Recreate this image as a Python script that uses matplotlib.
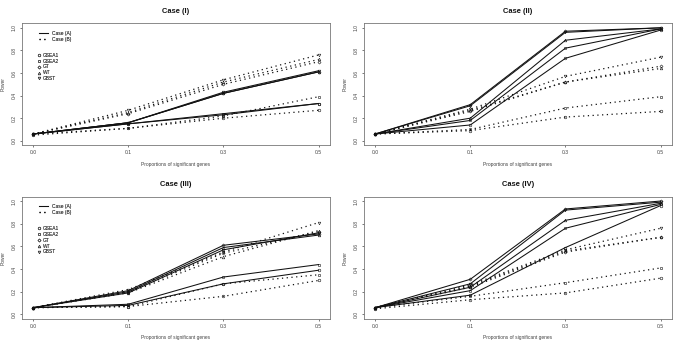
import matplotlib
matplotlib.use('Agg')
import matplotlib.pyplot as plt
from matplotlib.lines import Line2D

plt.rcParams['font.family'] = ['Liberation Sans', 'DejaVu Sans']

props = ['0.0', '0.1', '0.3', '0.5']
methods = ['GSEA1', 'GSEA2', 'GT', 'WT', 'GBST']
titles = ['Case (I)', 'Case (II)', 'Case (III)', 'Case (IV)']

# rows follow methods: GSEA1, GSEA2, GT, WT, GBST
case1_a = [[0.06, 0.15, 0.23, 0.33],
           [0.06, 0.15, 0.24, 0.33],
           [0.06, 0.16, 0.42, 0.61],
           [0.06, 0.16, 0.42, 0.61],
           [0.06, 0.16, 0.43, 0.62]]
case1_b = [[0.05, 0.11, 0.20, 0.27],
           [0.06, 0.11, 0.22, 0.39],
           [0.06, 0.24, 0.50, 0.70],
           [0.06, 0.25, 0.52, 0.72],
           [0.06, 0.27, 0.54, 0.76]]

case2_a = [[0.06, 0.14, 0.73, 0.98],
           [0.06, 0.18, 0.82, 0.99],
           [0.06, 0.32, 0.97, 1.00],
           [0.06, 0.20, 0.89, 0.99],
           [0.06, 0.31, 0.96, 1.00]]
case2_b = [[0.06, 0.09, 0.21, 0.26],
           [0.06, 0.10, 0.29, 0.39],
           [0.06, 0.26, 0.52, 0.66],
           [0.06, 0.27, 0.52, 0.64],
           [0.06, 0.28, 0.57, 0.74]]

case3_a = [[0.06, 0.08, 0.27, 0.39],
           [0.06, 0.09, 0.33, 0.44],
           [0.06, 0.21, 0.61, 0.71],
           [0.06, 0.20, 0.59, 0.70],
           [0.06, 0.19, 0.57, 0.72]]
case3_b = [[0.06, 0.07, 0.16, 0.30],
           [0.06, 0.07, 0.27, 0.35],
           [0.06, 0.20, 0.54, 0.73],
           [0.06, 0.19, 0.51, 0.74],
           [0.06, 0.22, 0.55, 0.81]]

case4_a = [[0.06, 0.17, 0.59, 0.96],
           [0.06, 0.21, 0.76, 0.97],
           [0.06, 0.31, 0.93, 1.00],
           [0.06, 0.24, 0.83, 0.98],
           [0.06, 0.27, 0.92, 0.99]]
case4_b = [[0.05, 0.13, 0.19, 0.32],
           [0.06, 0.16, 0.28, 0.41],
           [0.06, 0.24, 0.55, 0.68],
           [0.06, 0.25, 0.56, 0.68],
           [0.06, 0.26, 0.57, 0.76]]

data_a = [case1_a, case2_a, case3_a, case4_a]
data_b = [case1_b, case2_b, case3_b, case4_b]

markers = ['o', 's', 'D', '^', 'v']
msizes = [1.9, 1.7, 1.6, 1.9, 1.9]
dotted = (0, (1, 2.8))

W, H = 685, 347
fig = plt.figure(figsize=(W / 100, H / 100), dpi=100)

# panel boxes in pixels: left, top, right, bottom
boxes = [(21.7, 23.3, 330, 145.3), (363.7, 23.3, 672, 145.3),
         (21.7, 196.5, 330, 319), (363.7, 196.5, 672, 319)]

x = list(range(len(props)))
for i, (l, t, r, b) in enumerate(boxes):
    ax = fig.add_axes([l / W, 1 - b / H, (r - l) / W, (b - t) / H])
    for j in range(len(methods)):
        ax.plot(x, data_a[i][j], color='#111111', lw=0.75, marker=markers[j],
                ms=msizes[j], mfc='none', mew=0.4)
        ax.plot(x, data_b[i][j], color='#111111', lw=0.9, ls=dotted,
                marker=markers[j], ms=msizes[j], mfc='none', mew=0.4)
    ax.set_xlim(-0.12, 3.12)
    ax.set_ylim(-0.04, 1.04)
    ax.set_xticks(x)
    ax.set_xticklabels(props)
    ax.set_yticks([0.0, 0.2, 0.4, 0.6, 0.8, 1.0])
    ax.set_yticklabels(['0.0', '0.2', '0.4', '0.6', '0.8', '1.0'],
                       rotation=90, va='center')
    ax.tick_params(labelsize=3.6, length=1.6, width=0.5, pad=2.0,
                   colors='#444444')
    for s in ax.spines.values():
        s.set_linewidth(0.6)
        s.set_color('#777777')
    h = b - t
    wdt = r - l
    ax.text(0.5, 1 + 11.5 / h, titles[i], transform=ax.transAxes,
            ha='center', va='center', fontsize=5.4, fontweight='bold',
            color='#111111')
    ax.text(0.5, -18.8 / h, 'Proportions of significant genes',
            transform=ax.transAxes, ha='center', va='center', fontsize=3.5,
            color='#444444')
    ax.text(-18.5 / wdt, 0.5, 'Power', transform=ax.transAxes,
            ha='center', va='center', rotation=90, fontsize=3.5,
            color='#444444')

    h1 = [Line2D([], [], color='#111111', lw=0.75),
          Line2D([], [], color='#111111', lw=0.9, ls=dotted)]
    leg1 = ax.legend(h1, ['Case (A)', 'Case (B)'], loc='upper left',
                     bbox_to_anchor=((39 - l) / wdt, 1 - 7.4 / h),
                     frameon=False, fontsize=3.5, handlelength=1.9,
                     handletextpad=0.8, labelspacing=0.25, borderpad=0,
                     borderaxespad=0, labelcolor='#444444')
    ax.add_artist(leg1)
    h2 = [Line2D([], [], color='#333333', ls='none', marker=markers[j],
                 ms=msizes[j], mfc='none', mew=0.4) for j in range(len(methods))]
    ax.legend(h2, methods, loc='upper left',
              bbox_to_anchor=((37.4 - l) / wdt, 1 - 29.4 / h),
              frameon=False, fontsize=3.5, handlelength=0.6,
              handletextpad=0.5, labelspacing=0.18, borderpad=0,
              borderaxespad=0, labelcolor='#444444')

fig.savefig('out.png', dpi=100)
